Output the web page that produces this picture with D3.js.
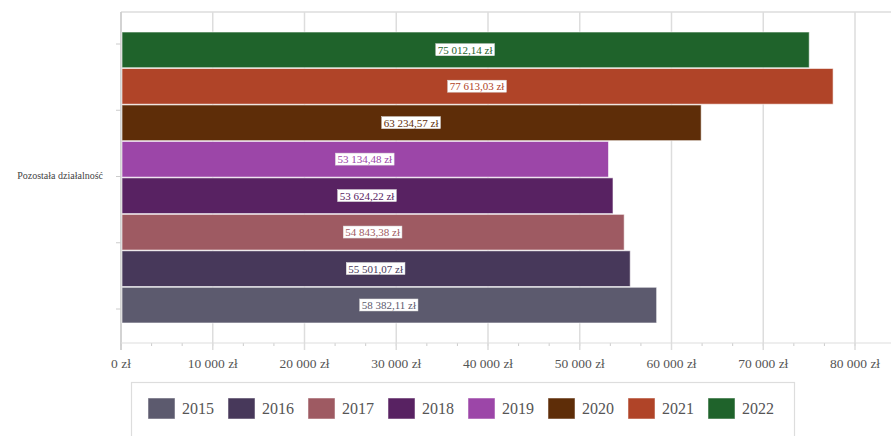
<!DOCTYPE html>
<html><head><meta charset="utf-8">
<script src="https://cdn.jsdelivr.net/npm/d3@7/dist/d3.min.js"></script>
<style>body{margin:0;background:#fff}svg{display:block}</style>
</head><body><svg id="c" width="891" height="436"></svg>
<script>
const category = "Pozostała działalność";
const years = ["2015","2016","2017","2018","2019","2020","2021","2022"];
const values = [58382.11, 55501.07, 54843.38, 53624.22, 53134.48, 63234.57, 77613.03, 75012.14];
const colors = ["#5c5a6e","#47385a","#9e5a62","#582262","#9c46a8","#5e2d08","#b04428","#1f632b"];
const xTicks = [0,10000,20000,30000,40000,50000,60000,70000,80000];

const svg = d3.select("#c");
const font = "'Liberation Serif', 'Times New Roman', serif";
const L = 121, T = 12, B = 343, R = 891;
const x = d3.scaleLinear().domain([0, 80000]).range([L, 855]);
const fmt = v => {
  const s = v.toFixed(2).split(".");
  return s[0].replace(/\B(?=(\d{3})+(?!\d))/g, "\u00a0") + "," + s[1] + " zł";
};
const fmtTick = v => String(v).replace(/\B(?=(\d{3})+(?!\d))/g, " ") + " zł";

// grid
svg.append("line").attr("x1", L).attr("x2", R).attr("y1", T).attr("y2", T).attr("stroke", "#ddd").attr("stroke-width", 1.5);
const minor = d3.range(0, 83000, 10000/3);
svg.selectAll(".mt").data(minor).join("line").attr("x1", d => x(d)).attr("x2", d => x(d))
  .attr("y1", B).attr("y2", B + 3).attr("stroke", "#ccc");
svg.selectAll(".g").data(xTicks).join("line").attr("x1", d => x(d)).attr("x2", d => x(d))
  .attr("y1", T).attr("y2", B + 7).attr("stroke", "#ddd").attr("stroke-width", 1.5);
svg.append("line").attr("x1", L).attr("x2", L).attr("y1", T).attr("y2", B + 7).attr("stroke", "#ccc").attr("stroke-width", 1.5);
svg.append("line").attr("x1", L).attr("x2", R).attr("y1", B).attr("y2", B).attr("stroke", "#ddd").attr("stroke-width", 1);

// x axis labels
svg.selectAll(".xl").data(xTicks).join("text").attr("x", d => x(d)).attr("y", 368)
  .attr("text-anchor", "middle").attr("font-family", font).attr("font-size", 13.5).attr("fill", "#555")
  .text(fmtTick);

// y ticks
const yTickPos = d3.scaleLinear().domain([0, 4]).range([44, 309]);
svg.selectAll(".yt").data(d3.range(5)).join("line").attr("x1", L - 5).attr("x2", L)
  .attr("y1", d => yTickPos(d)).attr("y2", d => yTickPos(d)).attr("stroke", "#ccc");
svg.append("text").attr("x", 103).attr("y", 179).attr("text-anchor", "end")
  .attr("font-family", font).attr("font-size", 10).attr("fill", "#444").text(category);

// bars (2022 at top)
const y = d3.scaleBand().domain(years.slice().reverse()).range([32, 323]).paddingInner(0.02);
const data = years.map((yr, i) => ({yr, v: values[i], c: colors[i]}));
svg.selectAll(".bar").data(data).join("rect")
  .attr("x", x(0) + 1).attr("y", d => y(d.yr)).attr("width", d => x(d.v) - x(0) - 1)
  .attr("height", y.bandwidth()).attr("fill", d => d.c)
  .attr("stroke", "rgba(255,255,255,0.6)").attr("stroke-width", 1);

// labels
const lg = svg.selectAll(".lab").data(data).join("g")
  .attr("transform", d => `translate(${(x(0) + x(d.v)) / 2},${y(d.yr) + y.bandwidth() / 2})`);
lg.append("text").attr("text-anchor", "middle").attr("dy", "0.35em")
  .attr("font-family", font).attr("font-size", 11).attr("fill", d => d.c).text(d => fmt(d.v))
  .each(function() {
    const b = this.getBBox();
    d3.select(this.parentNode).insert("rect", "text").attr("x", b.x - 2).attr("y", b.y)
      .attr("width", b.width + 4).attr("height", b.height).attr("fill", "#fff")
      .attr("stroke", "#ddd").attr("stroke-width", 0.5);
  });

// legend
svg.append("rect").attr("x", 131.5).attr("y", 382.5).attr("width", 663).attr("height", 60)
  .attr("fill", "#fff").attr("stroke", "#ddd").attr("stroke-width", 1.2);
const leg = svg.selectAll(".leg").data(data).join("g")
  .attr("transform", (d, i) => `translate(${148 + i * 80},398)`);
leg.append("rect").attr("width", 27).attr("height", 21).attr("fill", d => d.c)
  .attr("stroke", "rgba(255,255,255,0.5)");
leg.append("text").attr("x", 34).attr("y", 16).attr("font-family", font).attr("font-size", 16)
  .attr("fill", "#555").text(d => d.yr);
</script></body></html>
